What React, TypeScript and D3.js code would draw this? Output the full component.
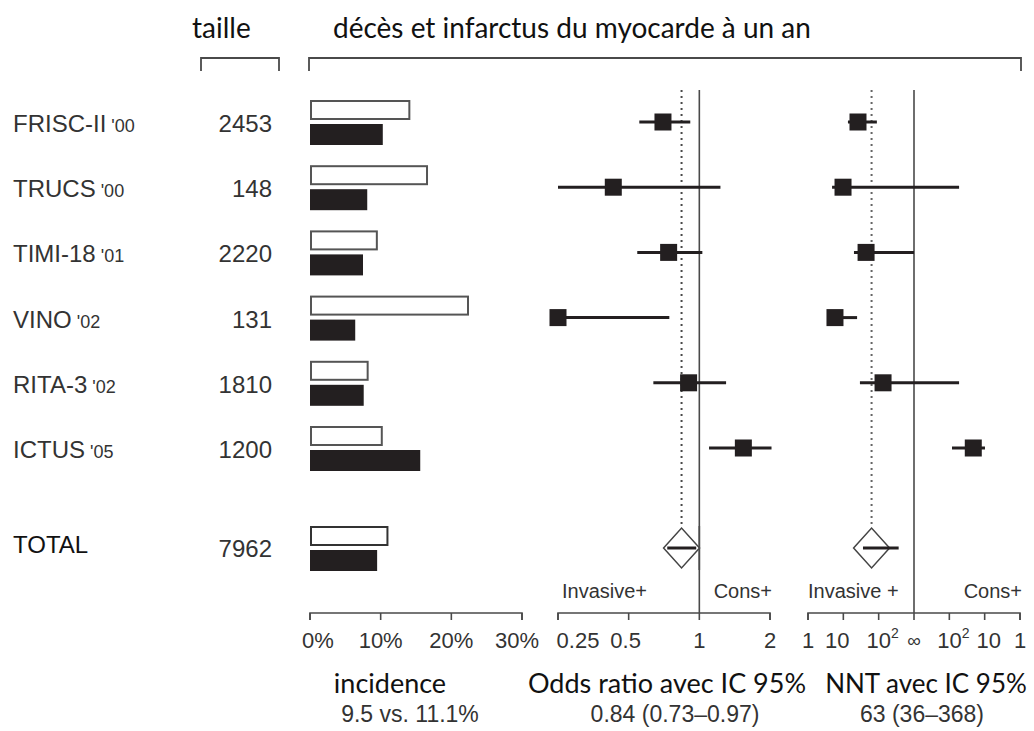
import React from "react";
import * as d3 from "d3";

const studies = ["FRISC-II", "TRUCS", "TIMI-18", "VINO", "RITA-3", "ICTUS"];
const years = ["'00", "'00", "'01", "'02", "'02", "'05"];
const sizes = [2453, 148, 2220, 131, 1810, 1200];
// incidence (%) conservative (white) and invasive (black)
const consIncidence = [14.2, 16.7, 9.6, 22.5, 8.3, 10.3];
const invIncidence = [10.3, 8.1, 7.5, 6.4, 7.6, 15.6];
// odds ratios with 95% CI
const orEst = [0.7, 0.43, 0.74, 0.25, 0.9, 1.54];
const orLow = [0.555, 0.25, 0.544, 0.25, 0.637, 1.1];
const orHigh = [0.915, 1.23, 1.03, 0.745, 1.3, 2.03];
// NNT: positive = number needed to treat (invasive+), negative = number needed to harm (cons+)
const nntEst = [26, 9.8, 44, 5.8, 133, -21];
const nntLeft = [13.5, 4.8, 20, 4.2, 29.5, -84];
const nntRight = [89, -53, Infinity, 24.5, -53, -9.8];
// pooled
const totalSize = 7962;
const totalCons = 11.1;
const totalInv = 9.5;
const totalOR = [0.84, 0.73, 0.97];
const totalNNT = [63, 36, 368];

const incTicks = [0, 10, 20, 30];
const orTicks = [0.25, 0.5, 1, 2];
const orTickLabels = ["0.25", "0.5", "1", "2"];
const nntTicks = [1, 10, 100, Infinity, -100, -10, -1];
const nntTickLabels = ["1", "10", "10^2", "∞", "10^2", "10", "1"];

const INK = "#231f20";
const LINE = "#4a4a4a";
const ARIAL = "'Liberation Sans', Arial, sans-serif";
const CAL = "Lato, 'Open Sans', sans-serif";

const xInc = d3.scaleLinear().domain([0, 30]).range([310, 522]);
const xOR = d3.scaleLog().base(2).domain([0.25, 2]).range([558, 770]);
const nntT = (n: number) =>
  n === Infinity || n === -Infinity ? 0 : n > 0 ? -(3 - Math.log10(n)) : 3 - Math.log10(-n);
const xNNTlin = d3.scaleLinear().domain([-3, 3]).range([808, 1020]);
const xNNT = (n: number) => xNNTlin(nntT(n));
const yRow = d3.scaleLinear().domain([0, 5]).range([122, 448]);
const yTotal = 548;
const axisY = 613;
const topY = 90;
const SQ = 17;

function Axis({ ticks, x, labels, dx }: { ticks: number[]; x: (v: number) => number; labels: string[]; dx?: number[] }) {
  const x0 = x(ticks[0]);
  const x1 = x(ticks[ticks.length - 1]);
  return (
    <g>
      <path d={`M${x0},${axisY + 7}V${axisY}H${x1}V${axisY + 7}`} fill="none" stroke={LINE} strokeWidth={1.6} />
      {ticks.map((t, i) => (
        <line key={i} x1={x(t)} x2={x(t)} y1={axisY} y2={axisY + 7} stroke={LINE} strokeWidth={1.6} />
      ))}
      {labels.map((l, i) => {
        const px = x(ticks[i]) + (dx ? dx[i] : 0);
        if (l === "10^2") {
          return (
            <text key={i} x={px} y={648} textAnchor="middle" fontFamily={ARIAL} fontSize={22} fill="#333">
              10<tspan fontSize={14} dy={-10}>2</tspan>
            </text>
          );
        }
        if (l === "∞") {
          return (
            <text key={i} x={px} y={647} textAnchor="middle" fontFamily={ARIAL} fontSize={19} fill="#333">
              ∞
            </text>
          );
        }
        return (
          <text key={i} x={px} y={648} textAnchor="middle" fontFamily={ARIAL} fontSize={22} fill="#333">
            {l}
          </text>
        );
      })}
    </g>
  );
}

function Diamond({ cx, cy }: { cx: number; cy: number }) {
  const w = 18, h = 20;
  return (
    <path
      d={`M${cx - w},${cy}L${cx},${cy - h}L${cx + w},${cy}L${cx},${cy + h}Z`}
      fill="white"
      stroke="#444"
      strokeWidth={1.5}
    />
  );
}

export default function App() {
  return (
    <svg
      width={1034}
      height={731}
      style={{ position: "absolute", left: 0, top: 0, background: "white" }}
    >
      <rect width={1034} height={731} fill="white" />
      {/* header */}
      <text x={192} y={38} fontFamily={CAL} fontSize={28} fill="#111">taille</text>
      <text x={333} y={38} fontFamily={CAL} fontSize={28} fill="#111">décès et infarctus du myocarde à un an</text>
      <path d="M201,71V58H279V71" fill="none" stroke={LINE} strokeWidth={1.8} />
      <path d="M309,71V58H1021V71" fill="none" stroke={LINE} strokeWidth={1.8} />

      {/* reference lines */}
      <line x1={xOR(1)} x2={xOR(1)} y1={topY} y2={axisY} stroke={LINE} strokeWidth={1.6} />
      <line x1={xOR(totalOR[0])} x2={xOR(totalOR[0])} y1={topY} y2={yTotal - 20} stroke={LINE} strokeWidth={2} strokeDasharray="2,4" />
      <line x1={xNNT(Infinity)} x2={xNNT(Infinity)} y1={topY} y2={axisY} stroke={LINE} strokeWidth={1.6} />
      <line x1={xNNT(totalNNT[0])} x2={xNNT(totalNNT[0])} y1={topY} y2={yTotal - 20} stroke="#666" strokeWidth={2} strokeDasharray="2,4" />

      {studies.map((s, i) => {
        const cy = yRow(i);
        return (
          <g key={s}>
            <text x={13} y={cy + 10} fontFamily={ARIAL} fontSize={24} fill="#333">
              {s}
              <tspan fontSize={18}> {years[i]}</tspan>
            </text>
            <text x={272} y={cy + 10} textAnchor="end" fontFamily={ARIAL} fontSize={24} fill="#333">
              {sizes[i]}
            </text>
            <rect x={xInc(0) + 1} y={cy - 21} width={xInc(consIncidence[i]) - xInc(0) - 2} height={18} fill="white" stroke="#555" strokeWidth={2} />
            <rect x={xInc(0)} y={cy + 2} width={xInc(invIncidence[i]) - xInc(0)} height={21} fill={INK} />
            {/* OR */}
            <line x1={xOR(orLow[i])} x2={xOR(orHigh[i])} y1={cy} y2={cy} stroke={INK} strokeWidth={3} />
            <rect x={xOR(orEst[i]) - SQ / 2} y={cy - SQ / 2} width={SQ} height={SQ} fill={INK} />
            {/* NNT */}
            <line x1={xNNT(nntLeft[i])} x2={xNNT(nntRight[i])} y1={cy} y2={cy} stroke={INK} strokeWidth={3} />
            <rect x={xNNT(nntEst[i]) - SQ / 2} y={cy - SQ / 2} width={SQ} height={SQ} fill={INK} />
          </g>
        );
      })}

      {/* total */}
      <text x={13} y={yTotal + 5} fontFamily={ARIAL} fontSize={24} fill="#111">TOTAL</text>
      <text x={272} y={yTotal + 9} textAnchor="end" fontFamily={ARIAL} fontSize={24} fill="#333">{totalSize}</text>
      <rect x={xInc(0) + 1} y={yTotal - 21} width={xInc(totalCons) - xInc(0) - 2} height={18} fill="white" stroke="#333" strokeWidth={2} />
      <rect x={xInc(0)} y={yTotal + 2} width={xInc(totalInv) - xInc(0)} height={21} fill={INK} />
      <Diamond cx={xOR(totalOR[0])} cy={yTotal} />
      <line x1={xOR(totalOR[1])} x2={xOR(totalOR[2])} y1={yTotal} y2={yTotal} stroke={INK} strokeWidth={3} />
      <Diamond cx={xNNT(totalNNT[0])} cy={yTotal} />
      <line x1={xNNT(totalNNT[1])} x2={xNNT(totalNNT[2])} y1={yTotal} y2={yTotal} stroke={INK} strokeWidth={3} />
      {/* redraw solid line over diamond edge */}
      <line x1={xOR(1)} x2={xOR(1)} y1={yTotal - 22} y2={yTotal + 22} stroke={LINE} strokeWidth={1.6} />

      {/* favour labels */}
      <text x={562} y={598} fontFamily={ARIAL} fontSize={20} fill="#333">Invasive+</text>
      <text x={772} y={598} textAnchor="end" fontFamily={ARIAL} fontSize={20} fill="#333">Cons+</text>
      <text x={808} y={598} fontFamily={ARIAL} fontSize={20} fill="#333">Invasive +</text>
      <text x={1022} y={598} textAnchor="end" fontFamily={ARIAL} fontSize={20} fill="#333">Cons+</text>

      {/* axes */}
      <Axis ticks={incTicks} x={xInc} labels={incTicks.map((t) => `${t}%`)} dx={[8, 0, 0, -5]} />
      <Axis ticks={orTicks} x={(v) => xOR(v)} labels={orTickLabels} dx={[20, -3, 0, 0]} />
      <Axis ticks={nntTicks} x={xNNT} labels={nntTickLabels} dx={[0, -6, 4, 0, 4, 4, 0]} />

      {/* bottom titles */}
      <text x={390} y={693} textAnchor="middle" fontFamily={CAL} fontSize={27} fill="#111">incidence</text>
      <text x={667} y={693} textAnchor="middle" fontFamily={CAL} fontSize={27} fill="#111">Odds ratio avec IC 95%</text>
      <text x={926} y={693} textAnchor="middle" fontFamily={CAL} fontSize={26} fill="#111">NNT avec IC 95%</text>
      <text x={410} y={722} textAnchor="middle" fontFamily={ARIAL} fontSize={23} fill="#333">9.5 vs. 11.1%</text>
      <text x={675} y={722} textAnchor="middle" fontFamily={ARIAL} fontSize={23} fill="#333">0.84 (0.73–0.97)</text>
      <text x={922} y={722} textAnchor="middle" fontFamily={ARIAL} fontSize={23} fill="#333">63 (36–368)</text>
    </svg>
  );
}
